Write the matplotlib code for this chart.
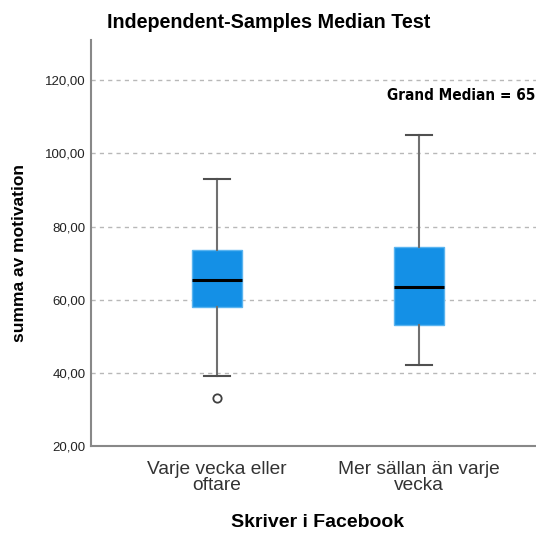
import matplotlib
matplotlib.use("Agg")
import matplotlib.pyplot as plt
from matplotlib.ticker import FixedLocator, FuncFormatter
from matplotlib import font_manager

categories = ["Varje vecka eller\noftare", "Mer sällan än varje\nvecka"]
whislo = [39, 42]
q1 = [58, 53]
med = [65.5, 63.5]
q3 = [73.5, 74.5]
whishi = [93, 105]
outliers = [[33], []]
grand_median = 65
yticks = [20, 40, 60, 80, 100, 120]

plt.rcParams['font.family'] = ['Liberation Sans', 'DejaVu Sans']

fig = plt.figure(figsize=(5.36, 5.34), dpi=100)
ax = fig.add_axes([0.170, 0.165, 0.830, 0.760])

stats = []
for i in range(len(categories)):
    stats.append(dict(whislo=whislo[i], q1=q1[i], med=med[i], q3=q3[i],
                      whishi=whishi[i], fliers=outliers[i], label=categories[i]))

ax.bxp(stats, positions=[1, 2], widths=0.25, patch_artist=True,
       showfliers=True,
       boxprops=dict(facecolor='#1490E6', edgecolor='#5AB4F0', linewidth=1),
       medianprops=dict(color='black', linewidth=2.2),
       whiskerprops=dict(color='#707070', linewidth=1.5),
       capprops=dict(color='#505050', linewidth=1.5),
       capwidths=0.125,
       flierprops=dict(marker='o', markerfacecolor='white', markeredgecolor='#404040',
                       markersize=6, markeredgewidth=1.3),
       zorder=3)

ax.set_xlim(0.376, 2.58)
ax.set_ylim(20, 131)
ax.yaxis.set_major_locator(FixedLocator(yticks))
ax.yaxis.set_major_formatter(FuncFormatter(lambda v, p: f"{v:.2f}".replace('.', ',')))
for y in yticks[1:]:
    ax.axhline(y, color='#b8b8b8', linestyle=(0, (3, 3)), linewidth=1, zorder=1)

ax.tick_params(axis='both', length=0)
ax.tick_params(axis='y', labelsize=9.5, pad=4, labelcolor='#222222')
ax.tick_params(axis='x', labelsize=13.8, pad=11, labelcolor='#333333')
for lab in ax.get_xticklabels():
    lab.set_linespacing(0.92)

for s in ['top', 'right']:
    ax.spines[s].set_visible(False)
for s in ['left', 'bottom']:
    ax.spines[s].set_color('#888888')
    ax.spines[s].set_linewidth(1.5)

ax.set_ylabel("summa av motivation", fontsize=12.5, fontweight='bold')
ax.yaxis.set_label_coords((19 - 91) / (0.830 * 536), (446 - 253) / 406)
ax.set_xlabel("Skriver i Facebook", fontsize=14, fontweight='bold')
ax.xaxis.set_label_coords((317 - 91) / (0.830 * 536), -(523 - 446) / 406)
ax.xaxis.label.set_va('center')
ax.yaxis.label.set_va('center')

fig.text(107/536, 1 - 22/534, "Independent-Samples Median Test", fontsize=14.2,
         fontweight='bold', ha='left', va='center')

# condensed bold for grand median
fp = font_manager.FontProperties(family=['DejaVu Sans'], weight='bold', stretch='condensed', size=11)
fig.text(535/536, 1 - 96/534, f"Grand Median = {grand_median}",
         fontproperties=fp, ha='right', va='center')

fig.savefig("out.png", dpi=100)
